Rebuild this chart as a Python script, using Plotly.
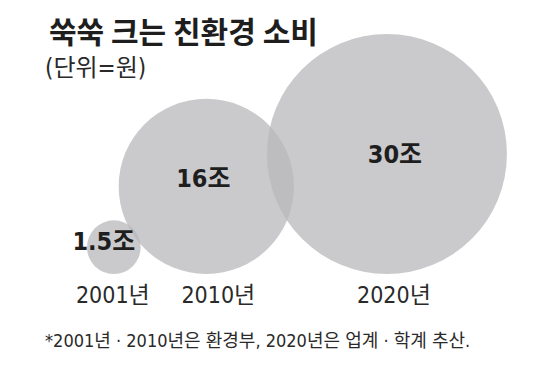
import math
import plotly.graph_objects as go

# ---- data ----
years = ["2001년", "2010년", "2020년"]
values = [1.5, 16, 30]           # 조 원
value_labels = ["1.5조", "16조", "30조"]
title = "쑥쑥 크는 친환경 소비"
subtitle = "(단위=원)"
footnote = "*2001년 · 2010년은 환경부, 2020년은 업계 · 학계 추산."

# ---- layout / style ----
W, H = 552, 369
FONT = "Liberation Sans Narrow, DejaVu Sans Condensed, Noto Sans CJK KR, sans-serif"
KFONT = "Noto Sans CJK KR, sans-serif"
max_diam = 240.0
# plotly area mode: radius = sqrt((v/2)/sizeref)
sizeref = 2.0 * max(values) / max_diam ** 2
diam = [max_diam * math.sqrt(v / max(values)) for v in values]
baseline = 274.0                            # common bottom of the bubbles (px)
first_left = 87.0
overlaps = [22.0, 27.0]
cx = [first_left + diam[0] / 2]
for i in range(1, len(values)):
    cx.append(cx[-1] + diam[i - 1] / 2 + diam[i] / 2 - overlaps[i - 1])
cy = [baseline - d / 2 for d in diam]

label_dx = [-10, -3, 8]
label_dy = [-3, -6, 3]
year_dx = [-1, 12, 7]
year_y = 297

fig = go.Figure()
fig.add_trace(go.Scatter(
    x=cx, y=cy, mode="markers",
    marker=dict(size=values, sizemode="area", sizeref=sizeref,
                color="rgb(185,185,188)", opacity=0.76,
                line=dict(width=0)),
    hoverinfo="skip", showlegend=False))
fig.add_trace(go.Scatter(
    x=[c + d for c, d in zip(cx, label_dx)],
    y=[c + d for c, d in zip(cy, label_dy)],
    mode="text", text=[f"<b>{t}</b>" for t in value_labels],
    textposition="middle center",
    textfont=dict(family=FONT, size=25, color="#1e1e1e"),
    hoverinfo="skip", showlegend=False))
fig.add_trace(go.Scatter(
    x=[c + d for c, d in zip(cx, year_dx)],
    y=[year_y] * len(years),
    mode="text", text=years, textposition="middle center",
    textfont=dict(family=FONT, size=23, color="#2a2a2a"),
    hoverinfo="skip", showlegend=False))

fig.add_annotation(text=f"<b>{title}</b>", x=47 / W, y=1 - 30 / H,
                   xref="paper", yref="paper", xanchor="left", yanchor="middle",
                   showarrow=False, font=dict(family=KFONT, size=30, color="#1e1e1e"))
fig.add_annotation(text=subtitle, x=43 / W, y=1 - 68 / H,
                   xref="paper", yref="paper", xanchor="left", yanchor="middle",
                   showarrow=False, font=dict(family=FONT, size=24, color="#2a2a2a"))
fig.add_annotation(text=footnote, x=43 / W, y=1 - 340 / H,
                   xref="paper", yref="paper", xanchor="left", yanchor="middle",
                   showarrow=False, font=dict(family=FONT, size=18, color="#2a2a2a"))

fig.update_layout(
    width=W, height=H, margin=dict(l=0, r=0, t=0, b=0),
    paper_bgcolor="white", plot_bgcolor="white",
    xaxis=dict(range=[0, W], visible=False, fixedrange=True),
    yaxis=dict(range=[H, 0], visible=False, fixedrange=True),
)
fig.write_html("out.html")
